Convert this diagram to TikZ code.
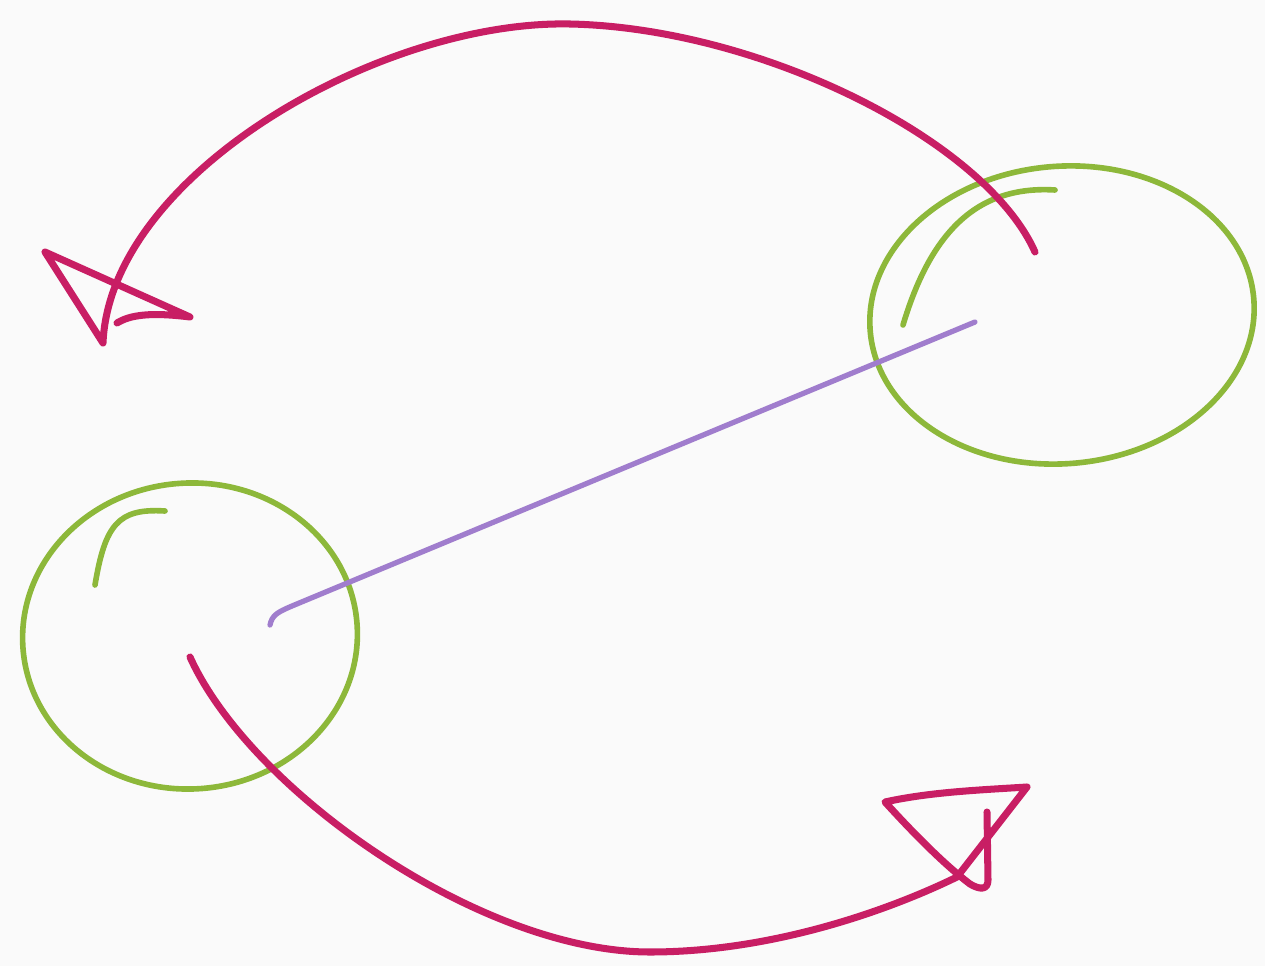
\documentclass[tikz,border=0pt]{standalone}
\usepackage{tikz}
\usetikzlibrary{shapes.geometric}
\definecolor{sketchgreen}{RGB}{141,184,58}
\definecolor{sketchpink}{RGB}{200,30,100}
\definecolor{sketchviolet}{RGB}{160,125,205}
\definecolor{paper}{RGB}{250,250,250}
\begin{document}
\begin{tikzpicture}[x=0.02cm, y=-0.02cm, line cap=round, line join=round,
  ring/.style={draw=sketchgreen, line width=3.2pt, ellipse, inner sep=0pt},
  tail/.style={draw=sketchgreen, line width=3.2pt},
  swing/.style={draw=sketchpink, line width=4pt},
  link/.style={draw=sketchviolet, line width=3pt}]
\fill[paper] (0,0) rectangle (1265,966);
\useasboundingbox (0,0) rectangle (1265,966);
% the two rings
\node[ring, rotate=5, minimum width=7.7cm, minimum height=5.95cm] (east) at (1062,315) {};
\node[ring, rotate=4, minimum width=6.7cm, minimum height=6.12cm] (west) at (190,636) {};
\draw[tail] (903,325) .. controls (930,235) and (975,185) .. (1055,190);
\draw[tail] (95,585) .. controls (105,525) and (118,508) .. (165,511);
% ends of the strokes
\coordinate (eastIn) at (975,322);
\coordinate (westIn) at (270,625);
\coordinate (eastOut) at (1035,252);
\coordinate (westOut) at (190,657);
\coordinate (northTip) at (103,343);
\coordinate (southTip) at (957,877);
% link between the rings
\draw[link] (westIn) .. controls (272,615) and (278,612) .. (292,606) -- (eastIn);
% swing over the top, with its open head
\draw[swing] (eastOut) .. controls (985,140) and (760,28) .. (570,24)
  .. controls (380,20) and (110,175) .. (northTip)
  -- (45,252) -- (190,317) .. controls (150,312) and (130,315) .. (117,323);
% swing under the bottom, with its open head
\draw[swing] (westOut) .. controls (250,790) and (480,952) .. (650,952)
  .. controls (780,952) and (900,905) .. (southTip)
  -- (1027,787) .. controls (980,790) and (930,792) .. (885,802)
  .. controls (915,835) and (945,865) .. (970,884)
  .. controls (980,890) and (988,890) .. (988,880) -- (987,812);
\end{tikzpicture}
\end{document}
